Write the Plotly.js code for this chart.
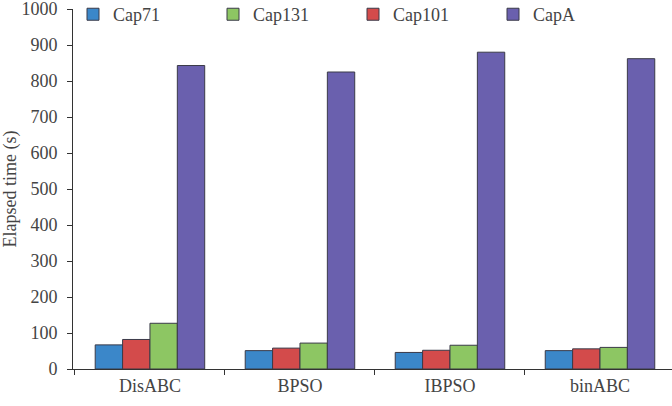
<!DOCTYPE html>
<html><head><meta charset="utf-8">
<script src="https://cdn.plot.ly/plotly-3.0.1.min.js"></script>
<style>html,body{margin:0;padding:0;background:#fff}#chart{width:672px;height:406px}</style>
</head><body><div id="chart"></div>
<script>
const categories = ["DisABC", "BPSO", "IBPSO", "binABC"];
const cap71  = [67, 51, 46, 51];
const cap101 = [82, 58, 52, 56];
const cap131 = [127, 72, 66, 60];
const capA   = [843, 825, 880, 862];
const yTicks = [0,100,200,300,400,500,600,700,800,900,1000];

const line = {color: '#3a3a48', width: 1};
const mk = (name, y, color, rank) => ({
  type: 'bar', name: name, x: categories, y: y,
  marker: {color: color, line: line}, legendrank: rank
});
const data = [
  mk('Cap71', cap71, '#3b87c9', 1),
  mk('Cap101', cap101, '#d34b4b', 3),
  mk('Cap131', cap131, '#8dc663', 2),
  mk('CapA', capA, '#6a60ae', 4)
];
const tf = {family: 'Liberation Serif, Times New Roman, serif', size: 18, color: '#444'};
const layout = {
  width: 672, height: 406,
  margin: {l: 73, r: 0, t: 9, b: 37, autoexpand: false},
  paper_bgcolor: '#fff', plot_bgcolor: '#fff',
  barmode: 'group', bargap: 0.27, bargroupgap: 0,
  showlegend: true,
  legend: {orientation: 'h', x: 0.0, y: 1.036, yanchor: 'top', xanchor: 'left',
           font: tf, bgcolor: 'rgba(0,0,0,0)', entrywidth: 95, entrywidthmode: 'pixels',
           traceorder: 'normal'},
  xaxis: {type: 'category', range: [-0.513, 3.48], showline: true, linecolor: '#333', linewidth: 1,
          ticks: 'outside', tickson: 'boundaries', ticklen: 5, tickcolor: '#333',
          tickfont: tf, showgrid: false, zeroline: false, fixedrange: true},
  yaxis: {range: [0, 1000], tickvals: yTicks, ticktext: yTicks.map(String),
          showline: true, linecolor: '#333', linewidth: 1, ticks: 'outside', ticklen: 5,
          tickcolor: '#333', tickfont: tf, showgrid: false, zeroline: false,
          ticklabelstandoff: 6, ticklabeloverflow: 'allow',
          title: {text: 'Elapsed time (s)', font: tf, standoff: 4}}
};
Plotly.newPlot('chart', data, layout, {displayModeBar: false, staticPlot: true});
</script></body></html>
